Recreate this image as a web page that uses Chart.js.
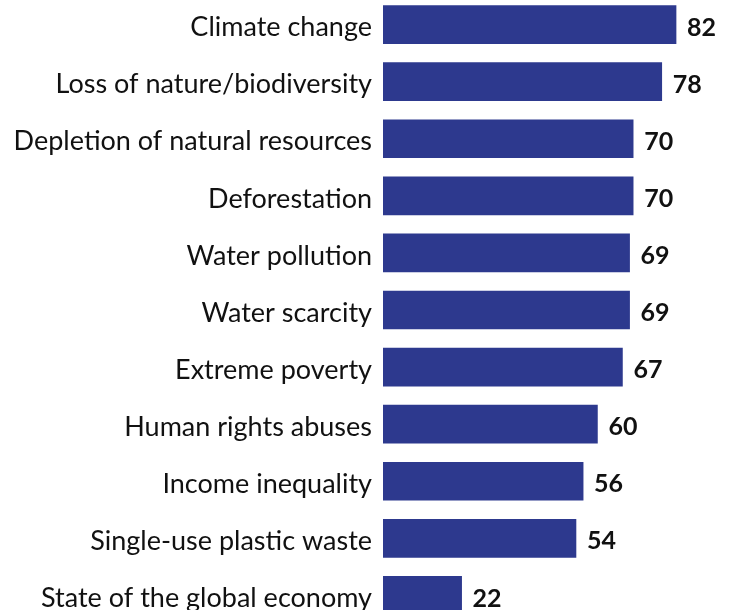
<!DOCTYPE html>
<html>
<head>
    <title>Environmental concerns</title>
    <script src="https://cdn.jsdelivr.net/npm/chart.js"></script>
    <style>
        html, body { margin: 0; padding: 0; overflow: hidden; background: #fff; }
        #chart { position: absolute; left: 0; top: -4px; }
    </style>
</head>
<body>
    <canvas id="chart" width="735" height="628"></canvas>

    <script>
        // datos
        var categorias = [
            'Climate change',
            'Loss of nature/biodiversity',
            'Depletion of natural resources',
            'Deforestation',
            'Water pollution',
            'Water scarcity',
            'Extreme poverty',
            'Human rights abuses',
            'Income inequality',
            'Single-use plastic waste',
            'State of the global economy'
        ];
        var valores = [82, 78, 70, 70, 69, 69, 67, 60, 56, 54, 22];

        var colorBarra = '#2d398e';
        var fuente = 'Lato, "DejaVu Sans", sans-serif';

        // nombres de categoría (un poco más abajo que el centro de la barra)
        var etiquetasEje = {
            id: 'etiquetasEje',
            afterDraw: function(chart) {
                var ctx = chart.ctx;
                var y = chart.scales.y;
                ctx.save();
                ctx.font = '27px ' + fuente;
                ctx.fillStyle = '#111';
                ctx.textAlign = 'right';
                ctx.textBaseline = 'middle';
                categorias.forEach(function(c, i) {
                    ctx.fillText(c, y.right - 11, y.getPixelForTick(i) + 3);
                });
                ctx.restore();
            }
        };

        // etiquetas de valor a la derecha de cada barra
        var etiquetasValor = {
            id: 'etiquetasValor',
            afterDatasetsDraw: function(chart) {
                var ctx = chart.ctx;
                var meta = chart.getDatasetMeta(0);
                ctx.save();
                ctx.font = 'bold 25px ' + fuente;
                ctx.fillStyle = '#111';
                ctx.textAlign = 'left';
                ctx.textBaseline = 'middle';
                meta.data.forEach(function(bar, i) {
                    ctx.fillText(valores[i], bar.x + 11, bar.y + 3);
                });
                ctx.restore();
            }
        };

        var ctx1 = document.getElementById('chart').getContext('2d');

        var chart1 = new Chart(ctx1, {
            type: 'bar',
            data: {
                labels: categorias,
                datasets: [{
                    data: valores,
                    backgroundColor: colorBarra,
                    barThickness: 38
                }]
            },
            options: {
                indexAxis: 'y',
                responsive: false,
                animation: false,
                layout: { padding: 0 },
                plugins: {
                    legend: { display: false },
                    tooltip: { enabled: false }
                },
                scales: {
                    x: {
                        display: false,
                        min: 0,
                        max: 98.5
                    },
                    y: {
                        grid: { display: false, drawTicks: false },
                        border: { display: false },
                        ticks: { display: false },
                        afterFit: function(scale) {
                            scale.width = 383;
                            scale.paddingTop = 0;
                            scale.paddingBottom = 0;
                        }
                    }
                }
            },
            plugins: [etiquetasEje, etiquetasValor]
        });
    </script>
</body>
</html>
